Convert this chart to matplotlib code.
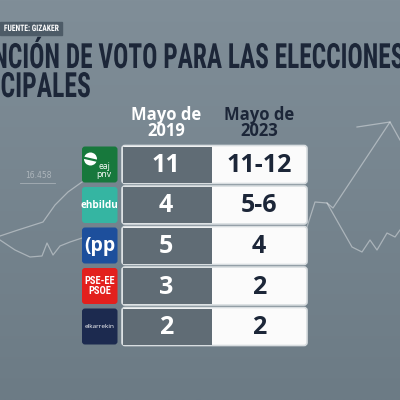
import matplotlib

matplotlib.use("Agg")

import matplotlib.pyplot as plt
import numpy as np
from matplotlib import patheffects
from matplotlib.patches import Circle, FancyBboxPatch, Rectangle
from matplotlib.transforms import Affine2D


# table content
parties = ["EAJ-PNV", "EH Bildu", "PP", "PSE-EE PSOE", "Elkarrekin Podemos"]
seats_2019 = ["11", "4", "5", "3", "2"]
seats_2023 = ["11-12", "5-6", "4", "2", "2"]
logo_labels = ["eaj\npnv", "ehbildu", "(pp", "PSE-EE\nPSOE", "elkarrekin"]
logo_colors = ["#17783c", "#35b5a2", "#1d4f9c", "#e3201d", "#1c2a4f"]
column_titles = ["Mayo de\n2019", "Mayo de\n2023"]

title_line1 = "INTENCIÓN DE VOTO PARA LAS ELECCIONES"
title_line2 = "MUNICIPALES"
source = "FUENTE: GIZAKER"

# faint background trend lines (x, y in screen pixels)
bg_left_x = [0, 15, 30, 42, 47, 53, 60, 70, 82]
bg_left_y = [240, 250, 257, 256, 243, 255, 246, 242, 238]
bg_left2_x = [0, 18, 43, 55, 68, 82]
bg_left2_y = [236, 230, 222, 205, 192, 182]
bg_right_x = [307, 315, 327, 333, 390, 400]
bg_right_y = [227, 202, 203, 208, 122, 140]
bg_right2_x = [327, 352, 362, 370, 377, 387, 395, 400]
bg_right2_y = [203, 247, 252, 240, 250, 233, 237, 230]
bg_right3_x = [357, 390]
bg_right3_y = [127, 122]

NAVY = "#1c2638"


class Squeeze(patheffects.AbstractPathEffect):
    """Narrow the glyphs horizontally around a fixed x (display pixels)."""

    def __init__(self, sx, x0):
        super().__init__()
        self.sx = sx
        self.x0 = x0

    def draw_path(self, renderer, gc, tpath, affine, rgbFace=None):
        squeeze = Affine2D().translate(-self.x0, 0).scale(self.sx, 1).translate(self.x0, 0)
        renderer.draw_path(gc, tpath, affine + squeeze, rgbFace)


fig = plt.figure(figsize=(4, 4), dpi=100)
ax = fig.add_axes([0, 0, 1, 1])
ax.set_xlim(0, 400)
ax.set_ylim(400, 0)
ax.axis("off")

# background gradient
grad = np.linspace(0, 1, 256).reshape(-1, 1)
top = np.array([0x80, 0x8e, 0x98]) / 255
bottom = np.array([0x6c, 0x7b, 0x85]) / 255
img = top + (bottom - top) * grad[..., None]
ax.imshow(img, extent=[0, 400, 400, 0], aspect="auto", zorder=0)

for xs, ys in [(bg_left_x, bg_left_y), (bg_left2_x, bg_left2_y),
               (bg_right_x, bg_right_y), (bg_right2_x, bg_right2_y),
               (bg_right3_x, bg_right3_y)]:
    ax.plot(xs, ys, color="white", lw=0.9, alpha=0.4, zorder=1)
ax.plot([20, 55], [183, 183], color="white", lw=0.6, alpha=0.35, zorder=1)
ax.text(38, 180, "16.458", color="white", alpha=0.4, fontsize=5.5,
        ha="center", va="bottom", zorder=1)

condensed = ["Liberation Sans Narrow", "DejaVu Sans Condensed", "Roboto Condensed", "Liberation Sans"]

# source tag
ax.add_patch(Rectangle((0, 22), 62, 12.5, color="#4d5b67", zorder=2))
ax.text(58, 28.5, source, color="white", fontsize=6.4, fontweight="bold",
        family=condensed, ha="right", va="center", zorder=3,
        path_effects=[Squeeze(0.85, 58)])

# title, cut off on the left like the screen capture
ax.text(405, 68, title_line1, color=NAVY, fontsize=25, fontweight="bold",
        family=condensed, ha="right", va="baseline", zorder=3,
        path_effects=[Squeeze(0.73, 405)])
ax.text(91, 97, title_line2, color=NAVY, fontsize=25, fontweight="bold",
        family=condensed, ha="right", va="baseline", zorder=3,
        path_effects=[Squeeze(0.74, 91)])

sans = ["Open Sans", "DejaVu Sans"]
col_x = [166, 259]
col_colors = ["white", NAVY]
for x, label, c in zip(col_x, column_titles, col_colors):
    ax.text(x, 123, label, color=c, fontsize=12, fontweight="bold", family=sans,
            ha="center", va="center", linespacing=0.9, zorder=3)

row_top = 146
row_step = 40.5
row_h = 37
for i, party in enumerate(parties):
    y0 = row_top + i * row_step
    yc = y0 + row_h / 2

    # logo
    ax.add_patch(FancyBboxPatch((82, y0 + 0.5), 35.5, row_h - 1,
                                boxstyle="round,pad=0,rounding_size=3",
                                fc=logo_colors[i], ec="none", zorder=3))
    lbl = logo_labels[i]
    if i == 0:
        ax.add_patch(Circle((90.5, y0 + 13), 6.5, fc="white", ec="none", zorder=4))
        ax.plot([85, 96], [y0 + 12, y0 + 14.5], color=logo_colors[0], lw=1.6, zorder=5)
        ax.text(104, yc + 6, lbl, color="white", fontsize=6.2,
                family=sans, ha="center", va="center", linespacing=0.8, zorder=4)
    elif i == 1:
        ax.text(99.75, yc, lbl, color="white", fontsize=7.2, fontweight="bold",
                family=sans, ha="center", va="center", zorder=4)
    elif i == 2:
        ax.text(99.75, yc, lbl, color="white", fontsize=14, fontweight="bold",
                family=sans, ha="center", va="center", zorder=4)
    elif i == 3:
        ax.text(99.75, yc, lbl, color="white", fontsize=7.5, fontweight="bold",
                family=condensed, ha="center", va="center", linespacing=0.9, zorder=4)
    else:
        ax.text(99.75, yc, lbl, color="white", fontsize=4.6,
                family=sans, ha="center", va="center", zorder=4)

    # cells
    ax.add_patch(FancyBboxPatch((122, y0 - 0.5), 185, row_h + 1,
                                boxstyle="round,pad=0,rounding_size=3",
                                fc="#fbfbfb", ec="#d8dde0", lw=1.2, zorder=3))
    ax.add_patch(Rectangle((123, y0 + 0.5), 89, row_h - 1,
                           fc="#606c75", ec="none", zorder=4))
    ax.text(col_x[0], yc + 1, seats_2019[i], color="white", fontsize=18,
            fontweight="bold", family=sans, ha="center", va="center", zorder=5)
    ax.text(col_x[1], yc + 1, seats_2023[i], color=NAVY, fontsize=18,
            fontweight="bold", family=sans, ha="center", va="center", zorder=5)

fig.savefig("out.png", dpi=100)
plt.close(fig)
